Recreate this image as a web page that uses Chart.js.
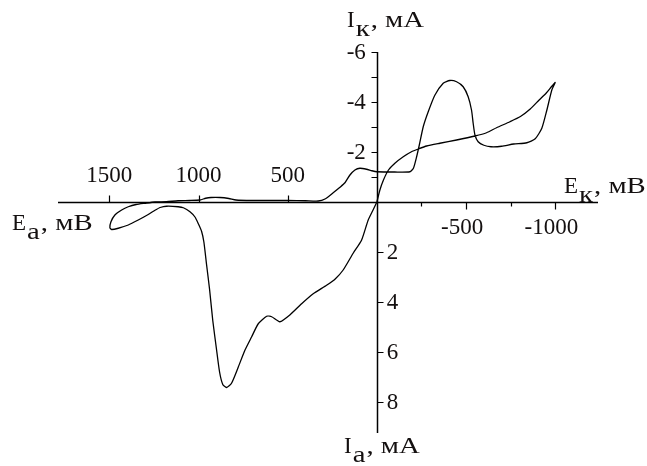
<!DOCTYPE html>
<html lang="ru">
  <head>
    <meta charset="UTF-8" />
    <title>Циклическая вольтамперограмма</title>
    <script src="https://cdn.jsdelivr.net/npm/chart.js"></script>
    <style>
      body { margin: 0; background: #fff; }
      #wrap { width: 647px; height: 466px; }
    </style>
  </head>
  <body>
    <div id="wrap"><canvas id="cvaChart" width="647" height="466"></canvas></div>

    <script>
      // развёртка 1: от 0 к -1000 мВ
      const sweep1E = [0, -17, -37, -65, -101, -148, -194, -232, -279, -353, -447, -550, -615, -671, -746, -805, -860, -910, -950, -980, -1000];
      const sweep1I = [0, -0.48, -0.88, -1.28, -1.55, -1.81, -2.01, -2.12, -2.24, -2.35, -2.48, -2.64, -2.77, -2.97, -3.21, -3.42, -3.72, -4.08, -4.36, -4.62, -4.78];

      // развёртка 2: от -1000 к +1500 мВ
      const sweep2E = [-981, -953, -925, -888, -841, -767, -700, -640, -600, -568, -550, -540, -531, -512, -484, -447, -409, -372, -325, -288, -260, -238, -223, -205, -185, -100, 0, 28, 58, 95, 123, 151, 179, 207, 245, 291, 329, 400, 500, 600, 700, 790, 830, 880, 930, 960, 992, 1050, 1115, 1180, 1244, 1300, 1350, 1394, 1431, 1469, 1491, 1497];
      const sweep2I = [-4.48, -3.67, -2.95, -2.53, -2.37, -2.32, -2.23, -2.21, -2.27, -2.41, -2.68, -3.15, -3.67, -4.21, -4.61, -4.81, -4.86, -4.75, -4.27, -3.61, -3.01, -2.28, -1.81, -1.35, -1.21, -1.2, -1.21, -1.25, -1.31, -1.35, -1.28, -1.08, -0.77, -0.59, -0.37, -0.12, -0.04, -0.05, -0.06, -0.06, -0.06, -0.08, -0.14, -0.18, -0.18, -0.15, -0.08, -0.06, -0.05, -0.01, 0, 0.05, 0.1, 0.19, 0.32, 0.52, 0.79, 1.03];

      // развёртка 3: от +1500 обратно к 0 мВ
      const sweep3E = [1487, 1450, 1394, 1338, 1282, 1244, 1215, 1179, 1114, 1085, 1048, 1020, 1001, 983, 970, 955, 938, 920, 900, 882, 864, 843, 815, 777, 740, 702, 665, 618, 590, 544, 488, 422, 357, 282, 235, 189, 133, 86, 49, 20, 0];
      const sweep3I = [1.1, 1.05, 0.92, 0.72, 0.5, 0.33, 0.22, 0.17, 0.19, 0.23, 0.39, 0.6, 0.87, 1.17, 1.6, 2.5, 3.5, 4.75, 5.85, 6.8, 7.3, 7.42, 7.25, 6.6, 5.93, 5.39, 4.87, 4.57, 4.59, 4.79, 4.52, 4.07, 3.67, 3.33, 3.09, 2.72, 2.05, 1.53, 0.73, 0.3, 0];

      // подписи осей
      const xTicksAnodic = [1500, 1000, 500];
      const xTicksCathodic = [-500, -1000];
      const xMinorCathodic = [-250, -750];
      const yTicksCathodic = [-6, -4, -2];
      const yMinorCathodic = [-5, -3, -1];
      const yTicksAnodic = [2, 4, 6, 8];

      const allE = sweep1E.concat(sweep2E, sweep3E);
      const allI = sweep1I.concat(sweep2I, sweep3I);
      const points = allE.map((e, i) => ({ x: e, y: allI[i] }));

      const FONT = '23px "Liberation Serif", "Times New Roman", serif';

      // подпись оси: буква, индекс и единицы (индекс и единицы шире, как в оригинале)
      function drawTitle(ctx, x, y, main, sub, rest) {
        const stretch = 1.25;
        ctx.font = FONT;
        ctx.textAlign = 'left';
        ctx.textBaseline = 'alphabetic';
        ctx.fillText(main, x, y);
        let cx = x + ctx.measureText(main).width + 1;
        ctx.save();
        ctx.translate(cx, y + 9);
        ctx.scale(stretch, 1);
        ctx.fillText(sub, 0, 0);
        ctx.restore();
        cx += ctx.measureText(sub).width * stretch + 1;
        ctx.save();
        ctx.translate(cx, y);
        ctx.scale(stretch, 1);
        ctx.fillText(rest, 0, 0);
        ctx.restore();
      }

      const crossAxes = {
        id: 'crossAxes',
        beforeDatasetsDraw(chart) {
          const ctx = chart.ctx;
          const xs = chart.scales.x;
          const ys = chart.scales.y;
          const area = chart.chartArea;
          const x0 = Math.round(xs.getPixelForValue(0)) + 0.5;
          const y0 = Math.round(ys.getPixelForValue(0)) + 0.5;
          ctx.save();
          ctx.strokeStyle = '#000';
          ctx.lineWidth = 1.5;
          ctx.beginPath();
          ctx.moveTo(area.left, y0);
          ctx.lineTo(area.right, y0);
          ctx.moveTo(x0, area.top);
          ctx.lineTo(x0, area.bottom);
          ctx.stroke();

          ctx.lineWidth = 1.2;
          ctx.beginPath();
          xTicksAnodic.forEach((v) => {
            const px = Math.round(xs.getPixelForValue(v)) + 0.5;
            ctx.moveTo(px, y0);
            ctx.lineTo(px, y0 - 7);
          });
          xTicksCathodic.forEach((v) => {
            const px = Math.round(xs.getPixelForValue(v)) + 0.5;
            ctx.moveTo(px, y0);
            ctx.lineTo(px, y0 + 7);
          });
          xMinorCathodic.forEach((v) => {
            const px = Math.round(xs.getPixelForValue(v)) + 0.5;
            ctx.moveTo(px, y0);
            ctx.lineTo(px, y0 + 4);
          });
          yTicksCathodic.concat(yMinorCathodic).forEach((v) => {
            const py = Math.round(ys.getPixelForValue(v)) + 0.5;
            ctx.moveTo(x0, py);
            ctx.lineTo(x0 - 6, py);
          });
          yTicksAnodic.forEach((v) => {
            const py = Math.round(ys.getPixelForValue(v)) + 0.5;
            ctx.moveTo(x0, py);
            ctx.lineTo(x0 + 6, py);
          });
          ctx.stroke();
          ctx.restore();
        },
        afterDraw(chart) {
          const ctx = chart.ctx;
          const xs = chart.scales.x;
          const ys = chart.scales.y;
          const x0 = xs.getPixelForValue(0);
          const y0 = ys.getPixelForValue(0);
          ctx.save();
          ctx.fillStyle = '#141010';
          ctx.font = FONT;

          ctx.textAlign = 'center';
          ctx.textBaseline = 'alphabetic';
          xTicksAnodic.forEach((v) => {
            ctx.fillText(String(v), xs.getPixelForValue(v), y0 - 20);
          });
          // минус висит слева, число по центру деления
          ctx.textAlign = 'right';
          xTicksCathodic.forEach((v) => {
            const num = String(Math.abs(v));
            const w = ctx.measureText(num).width;
            ctx.fillText('-' + num, xs.getPixelForValue(v) + w / 2, y0 + 32);
          });

          ctx.textBaseline = 'middle';
          ctx.textAlign = 'right';
          yTicksCathodic.forEach((v) => {
            ctx.fillText(String(v), x0 - 11, ys.getPixelForValue(v) + 1);
          });
          ctx.textAlign = 'left';
          yTicksAnodic.forEach((v) => {
            ctx.fillText(String(v), x0 + 10, ys.getPixelForValue(v) + 1);
          });

          drawTitle(ctx, 347, 27, 'I', 'к', ', мА');
          drawTitle(ctx, 344, 453, 'I', 'а', ', мА');
          drawTitle(ctx, 564, 193, 'E', 'к', ', мВ');
          drawTitle(ctx, 12, 230, 'E', 'а', ', мВ');
          ctx.restore();
        },
      };

      const ctx = document.getElementById('cvaChart').getContext('2d');
      const cvaChart = new Chart(ctx, {
        type: 'scatter',
        data: {
          datasets: [
            {
              data: points,
              showLine: true,
              borderColor: '#000',
              borderWidth: 1.3,
              pointRadius: 0,
              tension: 0.2,
            },
          ],
        },
        options: {
          responsive: false,
          animation: false,
          layout: { padding: { left: 58, right: 49, top: 52, bottom: 33 } },
          plugins: {
            legend: { display: false },
            tooltip: { enabled: false },
          },
          scales: {
            x: { type: 'linear', reverse: true, min: -1240, max: 1788, display: false },
            y: { type: 'linear', reverse: true, min: -6, max: 9.24, display: false },
          },
        },
        plugins: [crossAxes],
      });
    </script>
  </body>
</html>
